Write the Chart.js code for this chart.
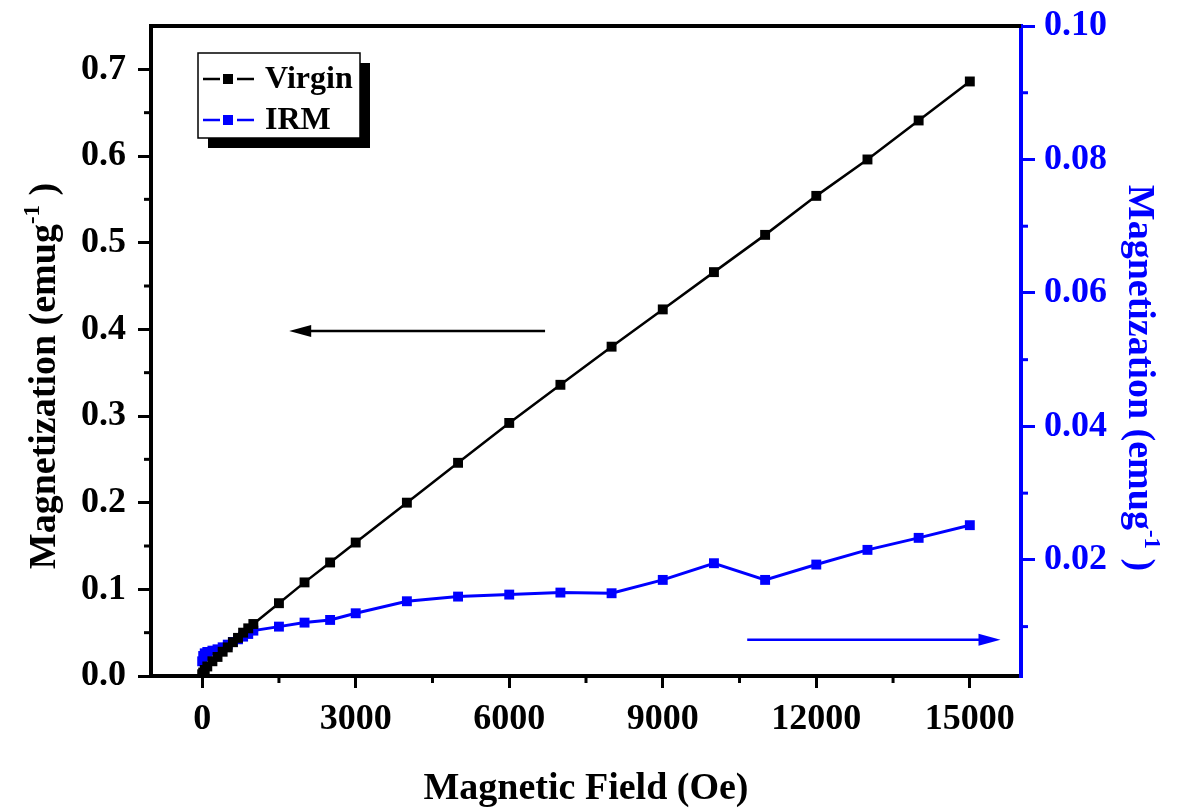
<!DOCTYPE html>
<html>
<head>
<meta charset="utf-8">
<script src="https://cdn.jsdelivr.net/npm/chart.js@4.4.0/dist/chart.umd.min.js"></script>
<style>
  html, body { margin: 0; padding: 0; background: #fff; }
</style>
</head>
<body>
<canvas id="magChart" width="1186" height="811"></canvas>
<script>
// measured field steps (Oe)
const fieldOe = [0, 20, 50, 100, 200, 300, 400, 500, 600, 700, 800, 900, 1000,
  1500, 2000, 2500, 3000, 4000, 5000, 6000, 7000, 8000, 9000, 10000, 11000, 12000, 13000, 14000, 15000];
// Virgin curve, left axis (emu/g)
const virginM = [0.002, 0.004, 0.007, 0.011, 0.017, 0.022, 0.028, 0.033, 0.039, 0.044, 0.050, 0.055, 0.060,
  0.084, 0.108, 0.131, 0.154, 0.200, 0.246, 0.292, 0.336, 0.380, 0.423, 0.466, 0.509, 0.554, 0.596, 0.641, 0.686];
// IRM curve, right axis (emu/g)
const irmM = [0.0048, 0.0056, 0.0060, 0.0062, 0.0064, 0.0066, 0.0069, 0.0073, 0.0077, 0.0081, 0.0085, 0.0089, 0.0094,
  0.0100, 0.0106, 0.0110, 0.0120, 0.0138, 0.0145, 0.0148, 0.0151, 0.0150, 0.0170, 0.0195, 0.0170, 0.0193, 0.0215, 0.0233, 0.0252];

const xTicks = [0, 3000, 6000, 9000, 12000, 15000];
const xMinorTicks = [1500, 4500, 7500, 10500, 13500];
const leftTicks = [0, 0.1, 0.2, 0.3, 0.4, 0.5, 0.6, 0.7];
const leftMinorTicks = [0.05, 0.15, 0.25, 0.35, 0.45, 0.55, 0.65];
const rightTicks = [0.02, 0.04, 0.06, 0.08, 0.10];
const rightMinorTicks = [0.01, 0.03, 0.05, 0.07, 0.09];

const serif = "'Liberation Serif', 'Times New Roman', serif";
const BLUE = "#0000ff";

const ctx = document.getElementById("magChart").getContext("2d");

function drawTitle(c, x, y, rot, color, main, sup, tail, size) {
  c.save();
  c.translate(x, y);
  c.rotate(rot);
  c.fillStyle = color;
  c.textBaseline = "alphabetic";
  c.textAlign = "left";
  const big = "bold " + size + "px " + serif;
  const small = "bold " + Math.round(size * 0.6) + "px " + serif;
  c.font = big;
  const w1 = c.measureText(main).width;
  const w3 = c.measureText(tail).width;
  c.font = small;
  const w2 = c.measureText(sup).width;
  const start = -(w1 + w2 + w3) / 2;
  const base = size * 0.33;
  c.font = big;
  c.fillText(main, start, base);
  c.font = small;
  c.fillText(sup, start + w1, base - size * 0.42);
  c.font = big;
  c.fillText(tail, start + w1 + w2, base);
  c.restore();
}

function arrow(c, x1, y, x2, color) {
  const dir = Math.sign(x2 - x1);
  c.save();
  c.strokeStyle = color;
  c.fillStyle = color;
  c.lineWidth = 2.5;
  c.beginPath();
  c.moveTo(x1, y);
  c.lineTo(x2 - dir * 16, y);
  c.stroke();
  c.beginPath();
  c.moveTo(x2, y);
  c.lineTo(x2 - dir * 22, y - 6);
  c.lineTo(x2 - dir * 22, y + 6);
  c.closePath();
  c.fill();
  c.restore();
}

const extrasPlugin = {
  id: "extras",
  afterDraw(chart) {
    const c = chart.ctx;
    const a = chart.chartArea;
    const sx = chart.scales.x, sy = chart.scales.y, sy2 = chart.scales.y2;

    // top frame line
    c.save();
    c.strokeStyle = "#000";
    c.lineWidth = 4;
    c.beginPath();
    c.moveTo(a.left - 2, a.top);
    c.lineTo(a.right, a.top);
    c.stroke();

    // minor ticks
    c.lineWidth = 3;
    xMinorTicks.forEach(v => {
      const px = sx.getPixelForValue(v);
      c.beginPath(); c.moveTo(px, a.bottom); c.lineTo(px, a.bottom + 7); c.stroke();
    });
    leftMinorTicks.forEach(v => {
      const py = sy.getPixelForValue(v);
      c.beginPath(); c.moveTo(a.left, py); c.lineTo(a.left - 7, py); c.stroke();
    });
    c.strokeStyle = BLUE;
    rightMinorTicks.forEach(v => {
      const py = sy2.getPixelForValue(v);
      c.beginPath(); c.moveTo(a.right, py); c.lineTo(a.right + 7, py); c.stroke();
    });
    c.restore();

    // arrows pointing at each axis
    arrow(c, sx.getPixelForValue(6700), sy.getPixelForValue(0.398), sx.getPixelForValue(1700), "#000");
    arrow(c, sx.getPixelForValue(10650), sy2.getPixelForValue(0.00805), sx.getPixelForValue(15600), BLUE);

    // legend box with drop shadow
    const lx = 198, ly = 53, lw = 162, lh = 85;
    c.save();
    c.fillStyle = "#000";
    c.fillRect(lx + 10, ly + 10, lw, lh);
    c.fillStyle = "#fff";
    c.fillRect(lx, ly, lw, lh);
    c.strokeStyle = "#000";
    c.lineWidth = 1.5;
    c.strokeRect(lx, ly, lw, lh);
    const rows = [["Virgin", "#000", 79], ["IRM", BLUE, 120]];
    rows.forEach(([label, col, ry]) => {
      c.strokeStyle = col;
      c.fillStyle = col;
      c.lineWidth = 2.5;
      c.beginPath();
      c.moveTo(203, ry); c.lineTo(220, ry);
      c.moveTo(237, ry); c.lineTo(254, ry);
      c.stroke();
      c.fillRect(223, ry - 5, 10, 10);
      c.fillStyle = "#000";
      c.font = "bold 32px " + serif;
      c.textBaseline = "middle";
      c.fillText(label, 265, ry + 1);
    });
    c.restore();

    // axis titles
    drawTitle(c, 42, 376, -Math.PI / 2, "#000", "Magnetization (emug", "-1", " )", 38);
    drawTitle(c, 1142, 378, Math.PI / 2, BLUE, "Magnetization (emug", "-1", " )", 38);
    drawTitle(c, (a.left + a.right) / 2, 786, 0, "#000", "Magnetic Field (Oe)", "", "", 38);
  }
};

const tickFont = { family: serif, size: 36, weight: "bold" };

new Chart(ctx, {
  type: "line",
  data: {
    datasets: [
      {
        label: "Virgin",
        data: fieldOe.map((f, i) => ({ x: f, y: virginM[i] })),
        yAxisID: "y",
        borderColor: "#000",
        backgroundColor: "#000",
        borderWidth: 2.5,
        pointStyle: "rect",
        pointRadius: 7,
        pointBorderWidth: 0,
        tension: 0
      },
      {
        label: "IRM",
        data: fieldOe.map((f, i) => ({ x: f, y: irmM[i] })),
        yAxisID: "y2",
        borderColor: BLUE,
        backgroundColor: BLUE,
        borderWidth: 3,
        pointStyle: "rect",
        pointRadius: 7,
        pointBorderWidth: 0,
        tension: 0
      }
    ]
  },
  options: {
    responsive: false,
    animation: false,
    devicePixelRatio: 1,
    layout: { padding: { top: 26, left: 0, right: 0, bottom: 0 } },
    plugins: {
      legend: { display: false },
      tooltip: { enabled: false }
    },
    scales: {
      x: {
        type: "linear",
        position: "bottom",
        min: -1000,
        max: 16000,
        afterBuildTicks: s => { s.ticks = xTicks.map(v => ({ value: v })); },
        afterFit: s => { s.height = 135; s.paddingLeft = 0; s.paddingRight = 0; },
        grid: { drawOnChartArea: false, tickLength: 12, lineWidth: 3, color: "#000" },
        border: { color: "#000", width: 4 },
        ticks: { color: "#000", font: tickFont, padding: 10, maxRotation: 0, autoSkip: false, callback: v => String(v) }
      },
      y: {
        position: "left",
        min: 0,
        max: 0.75,
        afterBuildTicks: s => { s.ticks = leftTicks.map(v => ({ value: v })); },
        afterFit: s => { s.width = 151; s.paddingTop = 0; s.paddingBottom = 0; },
        grid: { drawOnChartArea: false, tickLength: 13, lineWidth: 3, color: "#000" },
        border: { color: "#000", width: 4 },
        ticks: { color: "#000", font: tickFont, padding: 12, autoSkip: false, callback: v => v.toFixed(1) }
      },
      y2: {
        position: "right",
        min: 0.0026,
        max: 0.1,
        afterBuildTicks: s => { s.ticks = rightTicks.map(v => ({ value: v })); },
        afterFit: s => { s.width = 165; s.paddingTop = 0; s.paddingBottom = 0; },
        grid: { drawOnChartArea: false, tickLength: 14, lineWidth: 3, color: BLUE },
        border: { color: BLUE, width: 4 },
        ticks: { color: BLUE, font: tickFont, padding: 9, autoSkip: false, callback: v => v.toFixed(2) }
      }
    }
  },
  plugins: [extrasPlugin]
});
</script>
</body>
</html>
